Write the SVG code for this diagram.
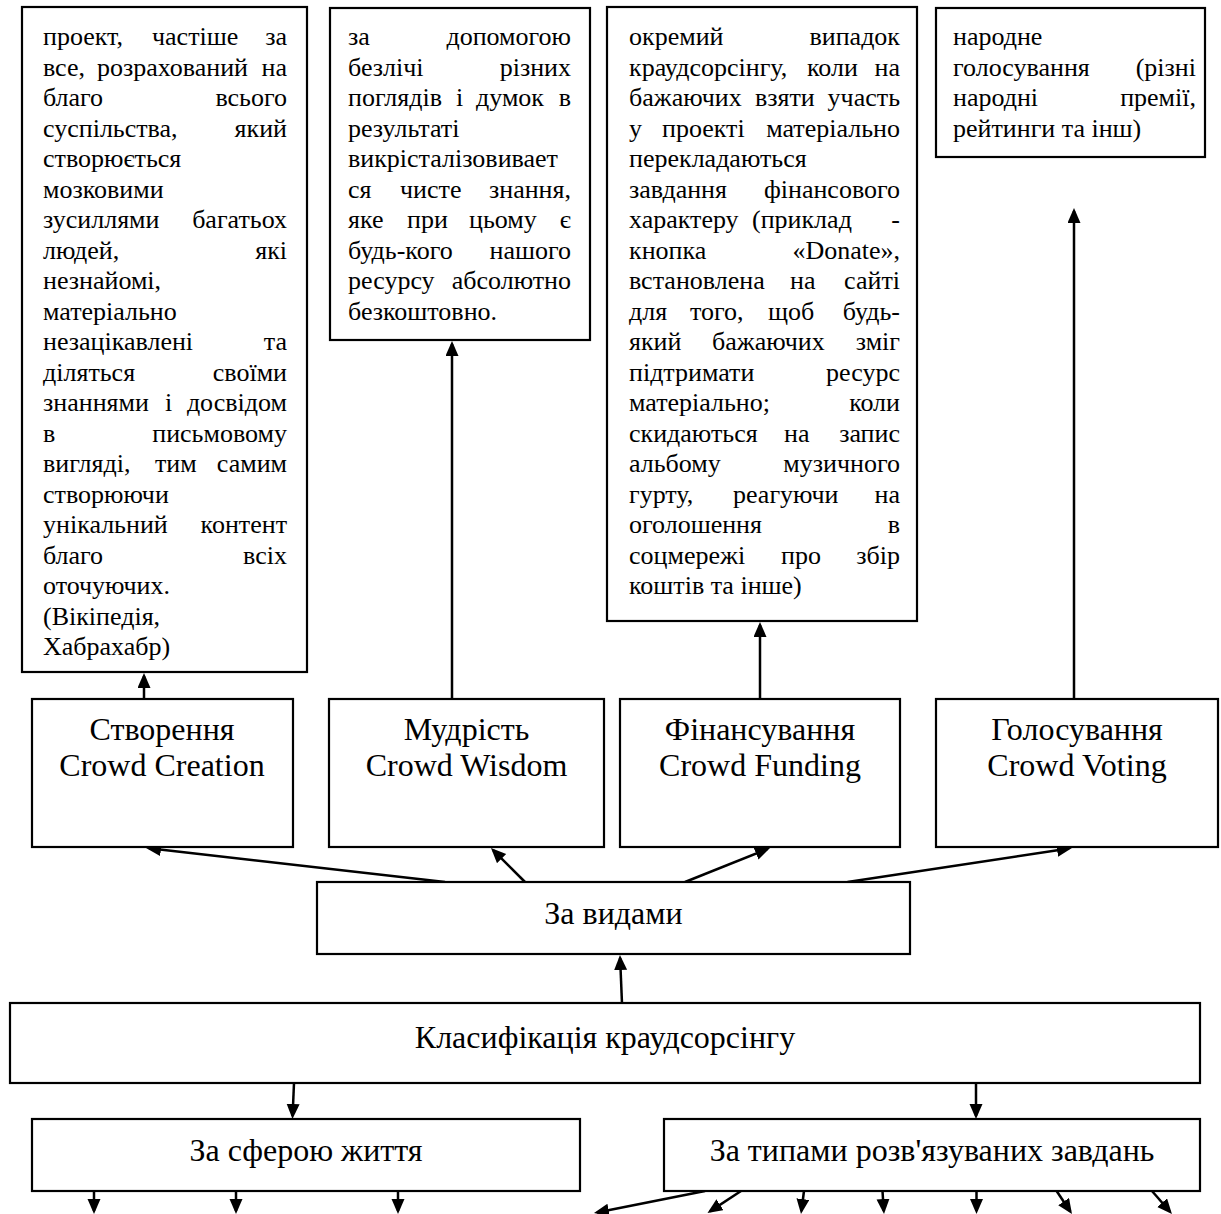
<svg xmlns="http://www.w3.org/2000/svg" width="1221" height="1214" viewBox="0 0 1221 1214">
<style>
.box{fill:#fff;stroke:#000;stroke-width:2.2}
.t{font-family:"Liberation Serif","Times New Roman",serif;font-size:26px;fill:#000}
.e{text-anchor:end}
.n{font-family:"Liberation Serif","Times New Roman",serif;font-size:32px;fill:#000;text-anchor:middle}
.c{stroke:#000;stroke-width:2.5;fill:none;marker-end:url(#ah)}
</style>
<defs>
<marker id="ah" markerUnits="userSpaceOnUse" viewBox="0 0 16 14" markerWidth="16" markerHeight="14" refX="12" refY="6.5" orient="auto"><path d="M0,0 L15,6.5 L0,13 z" fill="#000"/></marker>
</defs>
<rect width="1221" height="1214" fill="#fff"/>
<g id="connectors">
<line class="c" x1="144" y1="699" x2="144" y2="676"/>
<line class="c" x1="452" y1="699" x2="452" y2="344"/>
<line class="c" x1="760" y1="699" x2="760" y2="625"/>
<line class="c" x1="1074" y1="699" x2="1074" y2="211"/>
<line class="c" x1="445" y1="882" x2="149" y2="848.3"/>
<line class="c" x1="525" y1="882" x2="493.1" y2="850.1"/>
<line class="c" x1="685" y1="882" x2="767.2" y2="849.1"/>
<line class="c" x1="847.5" y1="882" x2="1069" y2="848.45"/>
<line class="c" x1="622" y1="1003" x2="620.1" y2="958"/>
<line class="c" x1="294" y1="1083" x2="292.6" y2="1116"/>
<line class="c" x1="976" y1="1083" x2="976" y2="1116"/>
<line class="c" x1="94" y1="1191" x2="94" y2="1211"/>
<line class="c" x1="236" y1="1191" x2="236" y2="1211"/>
<line class="c" x1="398" y1="1191" x2="398" y2="1211"/>
<line class="c" x1="705" y1="1191" x2="596.9" y2="1212.4"/>
<line class="c" x1="741" y1="1191" x2="710" y2="1211.4"/>
<line class="c" x1="804" y1="1191" x2="801.4" y2="1211"/>
<line class="c" x1="882.5" y1="1191" x2="883.8" y2="1211"/>
<line class="c" x1="976.5" y1="1191" x2="976.5" y2="1211"/>
<line class="c" x1="1056.6" y1="1191" x2="1070.3" y2="1211.5"/>
<line class="c" x1="1152" y1="1191" x2="1170" y2="1211.7"/>
</g>
<g id="desc-creation">
<rect class="box" x="22" y="7" width="285" height="665"/>
<text class="t" x="43" y="45">проект,</text><text class="t" x="152" y="45">частіше</text><text class="t e" x="287" y="45">за</text>
<text class="t" x="43" y="75.5">все,</text><text class="t" x="97" y="75.5">розрахований</text><text class="t e" x="287" y="75.5">на</text>
<text class="t" x="43" y="106">благо</text><text class="t e" x="287" y="106">всього</text>
<text class="t" x="43" y="136.5">суспільства,</text><text class="t e" x="287" y="136.5">який</text>
<text class="t" x="43" y="167">створюється</text>
<text class="t" x="43" y="197.5">мозковими</text>
<text class="t" x="43" y="228">зусиллями</text><text class="t e" x="287" y="228">багатьох</text>
<text class="t" x="43" y="258.5">людей,</text><text class="t e" x="287" y="258.5">які</text>
<text class="t" x="43" y="289">незнайомі,</text>
<text class="t" x="43" y="319.5">матеріально</text>
<text class="t" x="43" y="350">незацікавлені</text><text class="t e" x="287" y="350">та</text>
<text class="t" x="43" y="380.5">діляться</text><text class="t e" x="287" y="380.5">своїми</text>
<text class="t" x="43" y="411">знаннями</text><text class="t" x="165" y="411">і</text><text class="t e" x="287" y="411">досвідом</text>
<text class="t" x="43" y="441.5">в</text><text class="t e" x="287" y="441.5">письмовому</text>
<text class="t" x="43" y="472">вигляді,</text><text class="t" x="155" y="472">тим</text><text class="t e" x="287" y="472">самим</text>
<text class="t" x="43" y="502.5">створюючи</text>
<text class="t" x="43" y="533">унікальний</text><text class="t e" x="287" y="533">контент</text>
<text class="t" x="43" y="563.5">благо</text><text class="t e" x="287" y="563.5">всіх</text>
<text class="t" x="43" y="594">оточуючих.</text>
<text class="t" x="43" y="624.5">(Вікіпедія,</text>
<text class="t" x="43" y="655">Хабрахабр)</text>
</g>
<g id="desc-wisdom">
<rect class="box" x="330" y="8" width="260" height="332"/>
<text class="t" x="348" y="45">за</text><text class="t e" x="571" y="45">допомогою</text>
<text class="t" x="348" y="75.5">безлічі</text><text class="t e" x="571" y="75.5">різних</text>
<text class="t" x="348" y="106">поглядів</text><text class="t" x="456" y="106">і</text><text class="t" x="476" y="106">думок</text><text class="t e" x="571" y="106">в</text>
<text class="t" x="348" y="136.5">результаті</text>
<text class="t" x="348" y="167">викрісталізовивает</text>
<text class="t" x="348" y="197.5">ся</text><text class="t" x="400" y="197.5">чисте</text><text class="t e" x="571" y="197.5">знання,</text>
<text class="t" x="348" y="228">яке</text><text class="t" x="407" y="228">при</text><text class="t" x="469" y="228">цьому</text><text class="t e" x="571" y="228">є</text>
<text class="t" x="348" y="258.5">будь-кого</text><text class="t e" x="571" y="258.5">нашого</text>
<text class="t" x="348" y="289">ресурсу</text><text class="t e" x="571" y="289">абсолютно</text>
<text class="t" x="348" y="319.5">безкоштовно.</text>
</g>
<g id="desc-funding">
<rect class="box" x="607" y="7" width="310" height="614"/>
<text class="t" x="629" y="45">окремий</text><text class="t e" x="900" y="45">випадок</text>
<text class="t" x="629" y="75.5">краудсорсінгу,</text><text class="t" x="807" y="75.5">коли</text><text class="t e" x="900" y="75.5">на</text>
<text class="t" x="629" y="106">бажаючих</text><text class="t" x="755" y="106">взяти</text><text class="t e" x="900" y="106">участь</text>
<text class="t" x="629" y="136.5">у</text><text class="t" x="662" y="136.5">проекті</text><text class="t e" x="900" y="136.5">матеріально</text>
<text class="t" x="629" y="167">перекладаються</text>
<text class="t" x="629" y="197.5">завдання</text><text class="t e" x="900" y="197.5">фінансового</text>
<text class="t" x="629" y="228">характеру</text><text class="t" x="752" y="228">(приклад</text><text class="t e" x="900" y="228">-</text>
<text class="t" x="629" y="258.5">кнопка</text><text class="t e" x="900" y="258.5">«Donate»,</text>
<text class="t" x="629" y="289">встановлена</text><text class="t" x="790" y="289">на</text><text class="t e" x="900" y="289">сайті</text>
<text class="t" x="629" y="319.5">для</text><text class="t" x="690" y="319.5">того,</text><text class="t" x="768" y="319.5">щоб</text><text class="t e" x="900" y="319.5">будь-</text>
<text class="t" x="629" y="350">який</text><text class="t" x="712" y="350">бажаючих</text><text class="t e" x="900" y="350">зміг</text>
<text class="t" x="629" y="380.5">підтримати</text><text class="t e" x="900" y="380.5">ресурс</text>
<text class="t" x="629" y="411">матеріально;</text><text class="t e" x="900" y="411">коли</text>
<text class="t" x="629" y="441.5">скидаються</text><text class="t" x="784" y="441.5">на</text><text class="t e" x="900" y="441.5">запис</text>
<text class="t" x="629" y="472">альбому</text><text class="t e" x="900" y="472">музичного</text>
<text class="t" x="629" y="502.5">гурту,</text><text class="t" x="733" y="502.5">реагуючи</text><text class="t e" x="900" y="502.5">на</text>
<text class="t" x="629" y="533">оголошення</text><text class="t e" x="900" y="533">в</text>
<text class="t" x="629" y="563.5">соцмережі</text><text class="t" x="781" y="563.5">про</text><text class="t e" x="900" y="563.5">збір</text>
<text class="t" x="629" y="594">коштів та інше)</text>
</g>
<g id="desc-voting">
<rect class="box" x="936" y="8" width="269" height="149"/>
<text class="t" x="953" y="45">народне</text>
<text class="t" x="953" y="75.5">голосування</text><text class="t e" x="1196" y="75.5">(різні</text>
<text class="t" x="953" y="106">народні</text><text class="t e" x="1196" y="106">премії,</text>
<text class="t" x="953" y="136.5">рейтинги та інш)</text>
</g>
<g id="node-creation">
<rect class="box" x="32" y="699" width="261" height="148"/>
<text class="n" x="162" y="740">Створення</text>
<text class="n" x="162" y="776">Crowd Creation</text>
</g>
<g id="node-wisdom">
<rect class="box" x="329" y="699" width="275" height="148"/>
<text class="n" x="466.5" y="740">Мудрість</text>
<text class="n" x="466.5" y="776">Crowd Wisdom</text>
</g>
<g id="node-funding">
<rect class="box" x="620" y="699" width="280" height="148"/>
<text class="n" x="760" y="740">Фінансування</text>
<text class="n" x="760" y="776">Crowd Funding</text>
</g>
<g id="node-voting">
<rect class="box" x="936" y="699" width="282" height="148"/>
<text class="n" x="1077" y="740">Голосування</text>
<text class="n" x="1077" y="776">Crowd Voting</text>
</g>
<g id="node-by-types">
<rect class="box" x="317" y="882" width="593" height="72"/>
<text class="n" x="613.5" y="924">За видами</text>
</g>
<g id="node-classification">
<rect class="box" x="10" y="1003" width="1190" height="80"/>
<text class="n" x="605" y="1048">Класифікація краудсорсінгу</text>
</g>
<g id="node-sphere">
<rect class="box" x="32" y="1119" width="548" height="72"/>
<text class="n" x="306" y="1161">За сферою життя</text>
</g>
<g id="node-tasks">
<rect class="box" x="664" y="1119" width="536" height="72"/>
<text class="n" x="932" y="1161">За типами розв'язуваних завдань</text>
</g>
</svg>
